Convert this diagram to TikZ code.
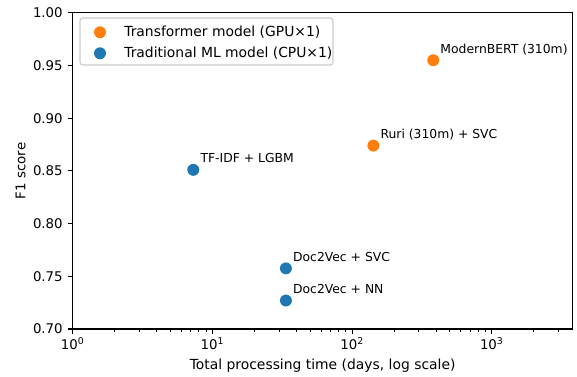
\documentclass[tikz,border=0pt]{standalone}
\usepackage{fontspec}
\setmainfont{DejaVu Sans}
\usetikzlibrary{positioning}
\definecolor{taborange}{HTML}{FF7F0E}
\definecolor{tabblue}{HTML}{1F77B4}
\tikzset{axisline/.style={draw, line width=0.8pt}}

\begin{document}
\begin{tikzpicture}[x=0.72pt, y=0.72pt]
\tikzstyle{dot} = [circle, inner sep=0pt, minimum size=8.6pt]
\tikzstyle{gpu} = [dot, fill=taborange]
\tikzstyle{cpu} = [dot, fill=tabblue]
\tikzstyle{tag} = [inner sep=0pt, font=\fontsize{8.9}{10}\selectfont]
\tikzstyle{ticklabel} = [inner sep=0pt, font=\fontsize{9.6}{11}\selectfont]
\tikzstyle{textlabel} = [inner sep=0pt, font=\fontsize{10}{12}\selectfont]

\useasboundingbox (0,0) rectangle (577,376);

% frame, x = log10(days), y = F1 score
\begin{scope}[shift={(72.7,-690.8)}, x=100.584pt, y=758.88pt]
    \coordinate (origin) at (0,0.70);
    \coordinate (corner) at (3.578,1.00);
    % ticks
    \foreach \v [count=\i] in {0.70,0.75,0.80,0.85,0.90,0.95,1.00}{
        \draw [line width=0.8pt] ([xshift=-3.5pt]0,\v) -- (0,\v);
        \node [ticklabel, anchor=east] (ytick\i) at ([xshift=-7pt]0,\v) {\v};
    }
    \foreach \e in {0,1,2,3}{
        \draw [line width=0.8pt] ([yshift=-3.5pt]\e,0.70) -- (\e,0.70);
        \node [ticklabel, anchor=base] (xtick\e) at ([yshift=-14.6pt]\e,0.70) {10\textsuperscript{\e}};
    }
    \foreach \t in {2,...,9,20,30,...,90,200,300,...,900,2000,3000}{
        \pgfmathsetmacro\lx{log10(\t)}
        \draw [line width=0.6pt] ([yshift=-2pt]\lx,0.70) -- (\lx,0.70);
    }
    \path [axisline] (origin) rectangle (corner);
    % axis labels
    \node [textlabel, anchor=base] (xlabel) at ([yshift=-29pt]1.789,0.70) {Total processing time (days, log scale)};
    \node [ticklabel, anchor=base, rotate=90] (ylabel) at ([xshift=-34pt]0,0.85) {F1 score};
    % points
    \node [gpu] (modernbert) at ({log10(381)},0.955) {};
    \node [gpu] (ruri) at ({log10(142)},0.874) {};
    \node [cpu] (tfidf) at ({log10(7.3)},0.851) {};
    \node [cpu] (d2vsvc) at ({log10(33.6)},0.7575) {};
    \node [cpu] (d2vnn) at ({log10(33.6)},0.727) {};
    % point labels
    \node [tag, above right=5pt and 5pt of modernbert.center, anchor=base west] (modernbert tag) {ModernBERT (310m)};
    \node [tag, above right=5pt and 5pt of ruri.center, anchor=base west] (ruri tag) {Ruri (310m) + SVC};
    \node [tag, above right=5pt and 5pt of tfidf.center, anchor=base west] (tfidf tag) {TF-IDF + LGBM};
    \node [tag, above right=5pt and 5pt of d2vsvc.center, anchor=base west] (d2vsvc tag) {Doc2Vec + SVC};
    \node [tag, above right=5pt and 5pt of d2vnn.center, anchor=base west] (d2vnn tag) {Doc2Vec + NN};
\end{scope}

% legend
\coordinate (legend sw) at (80,311);
\coordinate (legend ne) at (333,358);
\path [draw=black!20, fill=white, line width=0.8pt, rounded corners=2pt] (legend sw) rectangle (legend ne);
\node [gpu] (gpu key) at (100,343.7) {};
\node [cpu] (cpu key) at (100,322.7) {};
\node [textlabel, right=17.3pt of gpu key.center, anchor=west] (gpu text) {Transformer model (GPU×1)};
\node [textlabel, right=17.3pt of cpu key.center, anchor=west] (cpu text) {Traditional ML model (CPU×1)};
\end{tikzpicture}
\end{document}
